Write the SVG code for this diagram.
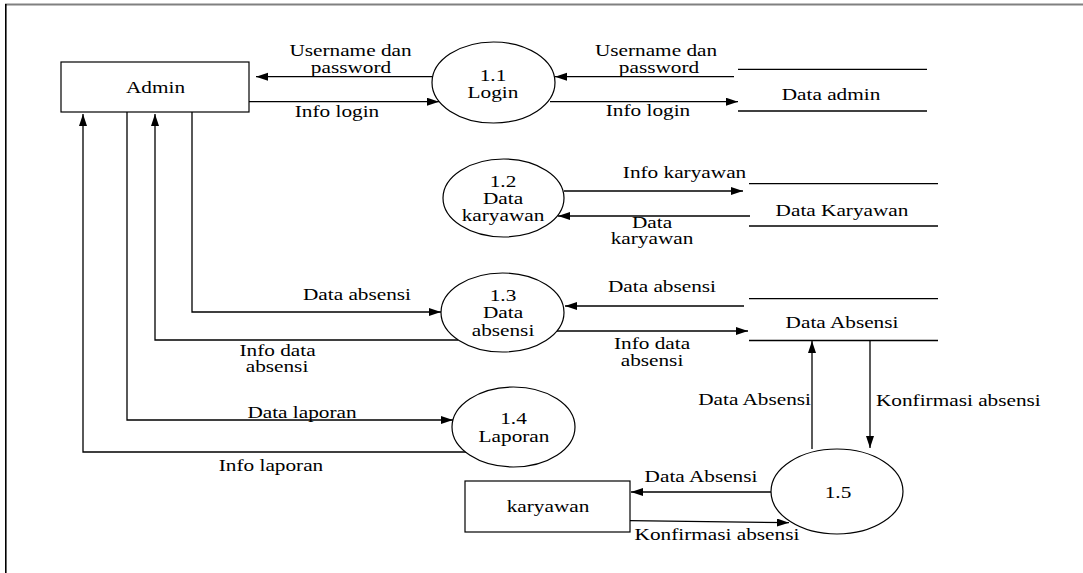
<svg xmlns="http://www.w3.org/2000/svg" width="1083" height="573" viewBox="0 0 1083 573">
<style>
.t{font-family:"Liberation Serif","Times New Roman",serif;font-size:16px;fill:#000;text-anchor:middle}
.s{font-family:"Liberation Serif","Times New Roman",serif;font-size:16px;fill:#000;text-anchor:start}
.e{font-family:"Liberation Serif","Times New Roman",serif;font-size:16px;fill:#000;text-anchor:end}
.box{fill:#fff;stroke:#000;stroke-width:1.2}
.proc{fill:#fff;stroke:#000;stroke-width:1.2}
.store{stroke:#000;stroke-width:1.3}
.c{fill:none;stroke:#000;stroke-width:1.3;marker-end:url(#arr)}
</style>
<defs>
<marker id="arr" markerUnits="userSpaceOnUse" markerWidth="14" markerHeight="10" refX="12" refY="4" orient="auto">
<path d="M0,0 L12,4 L0,8 z" fill="#000"/>
</marker>
</defs>
<rect x="0" y="0" width="1083" height="573" fill="#fff"/>
<g id="frame">
<line x1="5" y1="4.5" x2="1083" y2="4.5" stroke="#808080" stroke-width="2"/>
<line x1="5.8" y1="4" x2="5.8" y2="573" stroke="#000" stroke-width="1.6"/>
</g>
<g id="connectors">
<path class="c" d="M432,76.7 L256,76.7"/>
<path class="c" d="M249,101.7 L439,101.7"/>
<path class="c" d="M734,76.7 L555,76.7"/>
<path class="c" d="M550,101.7 L738,101.7"/>
<path class="c" d="M564,191 L743,191"/>
<path class="c" d="M750,216 L558,216"/>
<path class="c" d="M744,306 L565,306"/>
<path class="c" d="M556,331 L748,331"/>
<path class="c" d="M192,112 V312 H441"/>
<path class="c" d="M458,340 H155 V114"/>
<path class="c" d="M127,112 V420 H453"/>
<path class="c" d="M467,452 H83 V114"/>
<path class="c" d="M812,449 V341"/>
<path class="c" d="M870,341 V448"/>
<path class="c" d="M771,492 H631"/>
<path class="c" d="M630,520.7 L789,522.7"/>
</g>
<g id="connector-labels">
<text class="t" transform="translate(350.5,56) scale(1.33,1)">Username dan</text>
<text class="t" transform="translate(351,73) scale(1.33,1)">password</text>
<text class="t" transform="translate(337,117) scale(1.33,1)">Info login</text>
<text class="t" transform="translate(656,56) scale(1.33,1)">Username dan</text>
<text class="t" transform="translate(659,73) scale(1.33,1)">password</text>
<text class="t" transform="translate(648,116) scale(1.33,1)">Info login</text>
<text class="t" transform="translate(684.5,178) scale(1.33,1)">Info karyawan</text>
<text class="t" transform="translate(652,228) scale(1.33,1)">Data</text>
<text class="t" transform="translate(652,244) scale(1.33,1)">karyawan</text>
<text class="t" transform="translate(662,292) scale(1.33,1)">Data absensi</text>
<text class="t" transform="translate(652,349) scale(1.33,1)">Info data</text>
<text class="t" transform="translate(652,366) scale(1.33,1)">absensi</text>
<text class="t" transform="translate(357,300) scale(1.33,1)">Data absensi</text>
<text class="t" transform="translate(277.5,356) scale(1.33,1)">Info data</text>
<text class="t" transform="translate(277,372) scale(1.33,1)">absensi</text>
<text class="t" transform="translate(302,418) scale(1.33,1)">Data laporan</text>
<text class="t" transform="translate(271,471) scale(1.33,1)">Info laporan</text>
<text class="e" transform="translate(811,405) scale(1.33,1)">Data Absensi</text>
<text class="s" transform="translate(876,406) scale(1.33,1)">Konfirmasi absensi</text>
<text class="t" transform="translate(701,482) scale(1.33,1)">Data Absensi</text>
<text class="t" transform="translate(717,540) scale(1.33,1)">Konfirmasi absensi</text>
</g>
<g id="admin">
<rect class="box" x="61" y="62" width="188" height="50"/>
<text class="t" transform="translate(155.5,93) scale(1.33,1)">Admin</text>
</g>
<g id="karyawan">
<rect class="box" x="465" y="481" width="165" height="51"/>
<text class="t" transform="translate(548,512) scale(1.33,1)">karyawan</text>
</g>
<g id="p1-1">
<ellipse class="proc" cx="493.5" cy="82.5" rx="61.5" ry="40.5"/>
<text class="t" transform="translate(493,81) scale(1.33,1)">1.1</text>
<text class="t" transform="translate(493,98) scale(1.33,1)">Login</text>
</g>
<g id="p1-2">
<ellipse class="proc" cx="503.5" cy="198" rx="60.5" ry="39"/>
<text class="t" transform="translate(503,187) scale(1.33,1)">1.2</text>
<text class="t" transform="translate(503,204) scale(1.33,1)">Data</text>
<text class="t" transform="translate(503,221) scale(1.33,1)">karyawan</text>
</g>
<g id="p1-3">
<ellipse class="proc" cx="502.5" cy="312.5" rx="61.5" ry="39.5"/>
<text class="t" transform="translate(503,301) scale(1.33,1)">1.3</text>
<text class="t" transform="translate(503,318) scale(1.33,1)">Data</text>
<text class="t" transform="translate(503,336) scale(1.33,1)">absensi</text>
</g>
<g id="p1-4">
<ellipse class="proc" cx="513.5" cy="427" rx="61.5" ry="40"/>
<text class="t" transform="translate(513.5,424) scale(1.33,1)">1.4</text>
<text class="t" transform="translate(514,442) scale(1.33,1)">Laporan</text>
</g>
<g id="p1-5">
<ellipse class="proc" cx="837" cy="491.5" rx="66" ry="42.5"/>
<text class="t" transform="translate(838,498) scale(1.33,1)">1.5</text>
</g>
<g id="store-admin">
<line class="store" x1="738" y1="69.3" x2="927" y2="69.3"/>
<line class="store" x1="738" y1="111" x2="927" y2="111"/>
<text class="t" transform="translate(831,100) scale(1.33,1)">Data admin</text>
</g>
<g id="store-karyawan">
<line class="store" x1="749" y1="183.7" x2="938" y2="183.7"/>
<line class="store" x1="749" y1="226" x2="938" y2="226"/>
<text class="t" transform="translate(842,216) scale(1.33,1)">Data Karyawan</text>
</g>
<g id="store-absensi">
<line class="store" x1="749" y1="298.7" x2="938" y2="298.7"/>
<line class="store" x1="749" y1="340.5" x2="938" y2="340.5"/>
<text class="t" transform="translate(842,328) scale(1.33,1)">Data Absensi</text>
</g>
</svg>
